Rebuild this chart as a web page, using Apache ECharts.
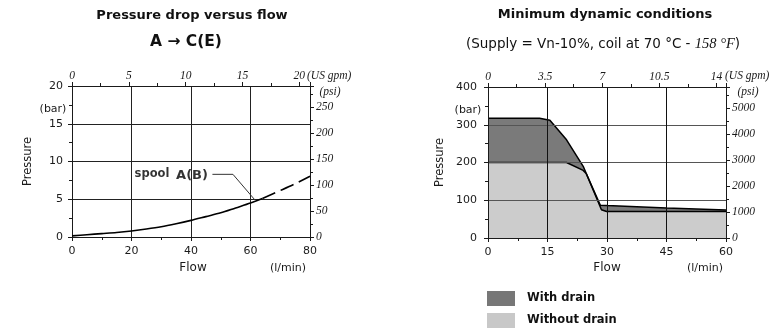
<!DOCTYPE html>
<html><head><meta charset="utf-8">
<script src="https://cdn.jsdelivr.net/npm/echarts@6/dist/echarts.min.js"></script>
<style>html,body{margin:0;padding:0;background:#fff}#c{width:782px;height:334px}</style>
</head><body><div id="c"></div>
<script>
// ---- Left chart: pressure drop vs flow ----
const flowSolid = [0, 5, 10, 15, 20, 25, 30, 35, 40, 45, 50, 55, 60, 64];
const pressureSolid = [0.15, 0.3, 0.45, 0.6, 0.8, 1.05, 1.35, 1.75, 2.2, 2.7, 3.2, 3.85, 4.5, 5.1];
const flowDashed = [64, 70, 75, 80];
const pressureDashed = [5.1, 6.15, 7.05, 8.05];
const leaderFlow = [47.2, 54.1, 61.5];
const leaderPressure = [8.3, 8.3, 4.9];
// ---- Right chart: minimum dynamic conditions ----
const withDrainFlow = [0, 13, 15.6, 19.8, 24, 24.8, 28.3, 30, 45, 60];
const withDrainPressure = [317, 317, 312, 260, 190, 170, 87, 86, 79.5, 74];
const withoutDrainFlow = [0, 19.8, 24, 24.8, 28.6, 29.9, 60];
const withoutDrainPressure = [200, 200, 179, 170, 75, 70, 70];
// axis ranges / tick labels
const leftFlowMax = 80, leftFlowStep = 20;
const leftGpmMax = 20.94, leftGpmStep = 5;
const leftBarMax = 20, leftBarStep = 5;
const leftPsiMax = 290, leftPsiStep = 50;
const rightFlowMax = 60, rightFlowStep = 15;
const rightGpmMax = 14.58, rightGpmStep = 3.5;
const rightBarMax = 400, rightBarStep = 100;
const rightPsiMax = 5800, rightPsiStep = 1000;
const legendNames = ['With drain', 'Without drain'];

const zip = (a, b) => a.map((v, i) => [v, b[i]]);
const SANS = 'DejaVu Sans';
const SERIF = 'Liberation Serif';
const INK = '#1a1a1a';
const plain = v => String(v);

function valAxis(o) {
  return Object.assign({
    type: 'value',
    axisLine: { show: true, onZero: false, lineStyle: { color: INK, width: 1 } },
    axisTick: { show: true, inside: false, length: 4, lineStyle: { color: INK } },
    minorTick: { show: true, splitNumber: 2, length: 3, lineStyle: { color: INK } },
    splitLine: { show: false },
    minorSplitLine: { show: false },
  }, o);
}
const sansLabel = (m) => ({ fontFamily: SANS, fontSize: 11, color: INK, margin: m, formatter: plain });
const serifLabel = (m) => ({ fontFamily: SERIF, fontStyle: 'italic', fontSize: 11.5, color: INK, showMaxLabel: false, margin: m, formatter: plain });
const legendText = { fontFamily: SANS, fontWeight: 'bold', fontSize: 11.5, color: '#111', padding: [0, 0, 0, 7] };

const option = {
  animation: false,
  backgroundColor: '#fff',
  grid: [
    { left: 72, top: 86, width: 238, height: 151 },
    { left: 488, top: 87, width: 238, height: 151 },
  ],
  xAxis: [
    valAxis({ gridIndex: 0, position: 'bottom', min: 0, max: leftFlowMax, interval: leftFlowStep,
      splitLine: { show: true, lineStyle: { color: '#222', width: 1 } }, axisLabel: sansLabel(9) }),
    valAxis({ gridIndex: 0, position: 'top', min: 0, max: leftGpmMax, interval: leftGpmStep,
      axisLabel: serifLabel(4) }),
    valAxis({ gridIndex: 1, position: 'bottom', min: 0, max: rightFlowMax, interval: rightFlowStep, z: 10,
      splitLine: { show: true, lineStyle: { color: '#111', width: 1 } }, axisLabel: sansLabel(9) }),
    valAxis({ gridIndex: 1, position: 'top', min: 0, max: rightGpmMax, interval: rightGpmStep, z: 10,
      axisLabel: serifLabel(4) }),
  ],
  yAxis: [
    valAxis({ gridIndex: 0, position: 'left', min: 0, max: leftBarMax, interval: leftBarStep,
      splitLine: { show: true, lineStyle: { color: '#222', width: 1 } },
      name: 'Pressure', nameLocation: 'middle', nameGap: 38,
      nameTextStyle: { fontFamily: SANS, fontSize: 11.5, color: INK },
      axisLabel: sansLabel(9) }),
    valAxis({ gridIndex: 0, position: 'right', min: 0, max: leftPsiMax, interval: leftPsiStep,
      axisLabel: serifLabel(6) }),
    valAxis({ gridIndex: 1, position: 'left', min: 0, max: rightBarMax, interval: rightBarStep, z: 10,
      splitLine: { show: true, lineStyle: { color: '#555', width: 1 } },
      name: 'Pressure', nameLocation: 'middle', nameGap: 42,
      nameTextStyle: { fontFamily: SANS, fontSize: 11.5, color: INK },
      axisLabel: sansLabel(11) }),
    valAxis({ gridIndex: 1, position: 'right', min: 0, max: rightPsiMax, interval: rightPsiStep, z: 10,
      axisLabel: serifLabel(6) }),
  ],
  legend: [
    { data: [{ name: legendNames[0], itemStyle: { color: '#777777', borderWidth: 0 } }],
      left: 487, top: 291, itemWidth: 28, itemHeight: 15, icon: 'rect', selectedMode: false, padding: 0,
      textStyle: legendText },
    { data: [{ name: legendNames[1], itemStyle: { color: '#c8c8c8', borderWidth: 0 } }],
      left: 487, top: 313, itemWidth: 28, itemHeight: 15, icon: 'rect', selectedMode: false, padding: 0,
      textStyle: legendText },
  ],
  series: [
    { type: 'line', xAxisIndex: 0, yAxisIndex: 0, data: zip(flowSolid, pressureSolid),
      smooth: 0.3, symbol: 'none', lineStyle: { color: '#000', width: 1.6 }, z: 3 },
    { type: 'line', xAxisIndex: 0, yAxisIndex: 0, data: zip(flowDashed, pressureDashed),
      smooth: 0.3, symbol: 'none', lineStyle: { color: '#000', width: 1.6, type: [14, 6] }, z: 3 },
    { type: 'line', xAxisIndex: 0, yAxisIndex: 0, data: zip(leaderFlow, leaderPressure),
      symbol: 'none', lineStyle: { color: '#333', width: 1 }, z: 3 },
    { type: 'scatter', xAxisIndex: 0, yAxisIndex: 0, data: [[leaderFlow[0], leaderPressure[0]]],
      symbolSize: 1, itemStyle: { color: 'rgba(0,0,0,0)' }, z: 4,
      label: { show: true, position: 'left', distance: 4,
        formatter: '{s|spool}  {a|A(B)}',
        rich: {
          s: { fontFamily: SANS, fontWeight: 'bold', fontSize: 11.5, color: '#000' },
          a: { fontFamily: SANS, fontWeight: 'bold', fontSize: 13, color: '#000', padding: [2, 0, 0, 0] },
        } } },
    { name: legendNames[0], type: 'line', xAxisIndex: 2, yAxisIndex: 2, data: zip(withDrainFlow, withDrainPressure),
      symbol: 'none', color: '#777777', lineStyle: { color: '#000', width: 1.5 },
      areaStyle: { color: '#7a7a7a', opacity: 1 }, z: 2 },
    { name: legendNames[1], type: 'line', xAxisIndex: 2, yAxisIndex: 2, data: zip(withoutDrainFlow, withoutDrainPressure),
      symbol: 'none', color: '#c8c8c8', lineStyle: { color: '#000', width: 1.5 },
      areaStyle: { color: '#cccccc', opacity: 1 }, z: 2 },
  ],
  graphic: [
    { type: 'text', x: 192, y: 16, style: { text: 'Pressure drop versus flow', align: 'center', verticalAlign: 'middle', font: 'bold 13px "DejaVu Sans"', fill: '#111' } },
    { type: 'text', x: 186, y: 42, style: { text: 'A \u2192 C(E)', align: 'center', verticalAlign: 'middle', font: 'bold 15.5px "DejaVu Sans"', fill: '#111' } },
    { type: 'text', x: 605, y: 15, style: { text: 'Minimum dynamic conditions', align: 'center', verticalAlign: 'middle', font: 'bold 13px "DejaVu Sans"', fill: '#111' } },
    { type: 'text', x: 603, y: 44, style: { text: '{n|(Supply = Vn-10%, coil at 70 \u00b0C - }{i|158 \u00b0F}{n|)}', align: 'center', verticalAlign: 'middle',
      rich: { n: { fontFamily: SANS, fontSize: 13.5, fill: '#111', color: '#111' }, i: { fontFamily: SERIF, fontStyle: 'italic', fontSize: 14.5, fill: '#111', color: '#111' } } } },
    // axis unit labels
    { type: 'text', x: 53, y: 109, style: { text: '(bar)', align: 'center', verticalAlign: 'middle', font: '11px "DejaVu Sans"', fill: INK } },
    { type: 'text', x: 468, y: 110, style: { text: '(bar)', align: 'center', verticalAlign: 'middle', font: '11px "DejaVu Sans"', fill: INK } },
    { type: 'text', x: 193, y: 268, style: { text: 'Flow', align: 'center', verticalAlign: 'middle', font: '12px "DejaVu Sans"', fill: INK } },
    { type: 'text', x: 607, y: 268, style: { text: 'Flow', align: 'center', verticalAlign: 'middle', font: '12px "DejaVu Sans"', fill: INK } },
    { type: 'text', x: 288, y: 268, style: { text: '(l/min)', align: 'center', verticalAlign: 'middle', font: '11px "DejaVu Sans"', fill: INK } },
    { type: 'text', x: 705, y: 268, style: { text: '(l/min)', align: 'center', verticalAlign: 'middle', font: '11px "DejaVu Sans"', fill: INK } },
    { type: 'text', x: 330, y: 92, style: { text: '(psi)', align: 'center', verticalAlign: 'middle', font: 'italic 11.5px "Liberation Serif"', fill: INK } },
    { type: 'text', x: 748, y: 92, style: { text: '(psi)', align: 'center', verticalAlign: 'middle', font: 'italic 11.5px "Liberation Serif"', fill: INK } },
    { type: 'text', x: 307, y: 76, style: { text: '(US gpm)', align: 'left', verticalAlign: 'middle', font: 'italic 11.5px "Liberation Serif"', fill: INK } },
    { type: 'text', x: 725, y: 76, style: { text: '(US gpm)', align: 'left', verticalAlign: 'middle', font: 'italic 11.5px "Liberation Serif"', fill: INK } },
  ],
};
const chart = echarts.init(document.getElementById('c'), null, { renderer: 'canvas' });
chart.setOption(option);
</script></body></html>
